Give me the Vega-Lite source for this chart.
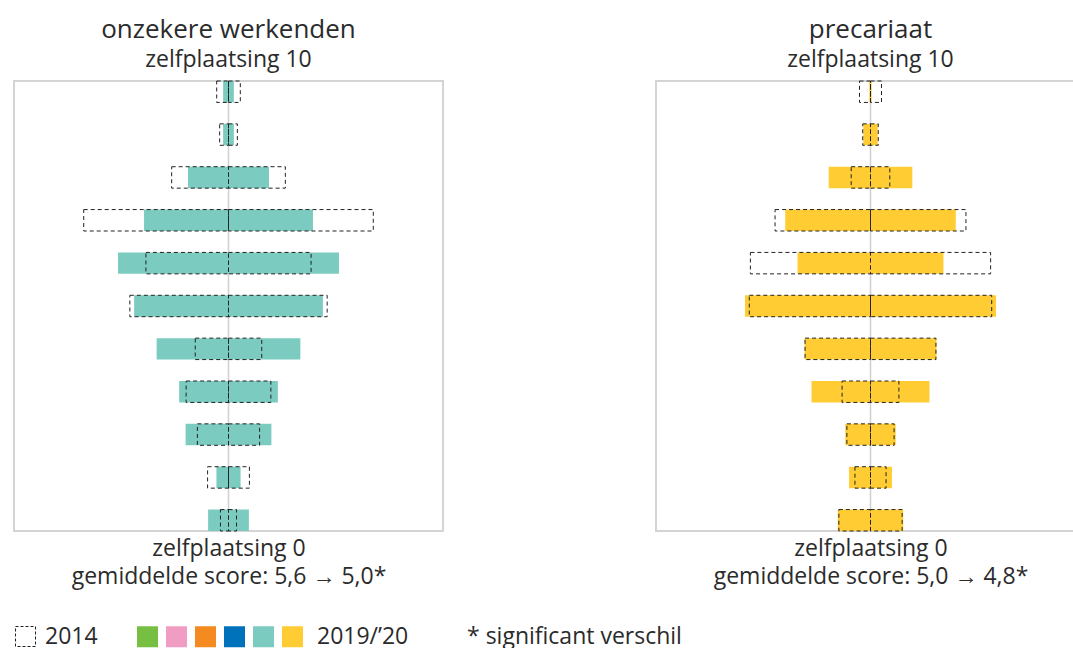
{
  "$schema": "https://vega.github.io/schema/vega-lite/v6.json",
  "background": "white",
  "padding": {"left": 13, "top": 16, "right": 0, "bottom": 0},
  "bounds": "flush",
  "spacing": 213,
  "config": {
    "font": "Open Sans",
    "view": {"stroke": "#d4d4d4", "strokeWidth": 2},
    "title": {"fontSize": 26, "fontWeight": "normal", "color": "#2b2b2b", "subtitleFontSize": 23, "subtitleColor": "#2b2b2b", "anchor": "middle", "offset": 8, "subtitlePadding": 6},
    "axis": {"titleFontSize": 23, "titleFontWeight": "normal", "titleColor": "#2b2b2b", "titleLineHeight": 28},
    "legend": {"labelFontSize": 23, "labelColor": "#2b2b2b", "titleFontSize": 23, "titleFontWeight": "normal", "titleColor": "#2b2b2b", "titleLimit": 0, "labelLimit": 0}
  },
  "resolve": {"scale": {"fill": "independent"}, "legend": {"fill": "independent"}},
  "data": {"values": [
    {"groep": "onzekere werkenden", "jaar": "2014", "score": 10, "pct": 2.2},
    {"groep": "onzekere werkenden", "jaar": "2014", "score": 9, "pct": 1.65},
    {"groep": "onzekere werkenden", "jaar": "2014", "score": 8, "pct": 10.6},
    {"groep": "onzekere werkenden", "jaar": "2014", "score": 7, "pct": 27.0},
    {"groep": "onzekere werkenden", "jaar": "2014", "score": 6, "pct": 15.4},
    {"groep": "onzekere werkenden", "jaar": "2014", "score": 5, "pct": 18.4},
    {"groep": "onzekere werkenden", "jaar": "2014", "score": 4, "pct": 6.2},
    {"groep": "onzekere werkenden", "jaar": "2014", "score": 3, "pct": 7.9},
    {"groep": "onzekere werkenden", "jaar": "2014", "score": 2, "pct": 5.8},
    {"groep": "onzekere werkenden", "jaar": "2014", "score": 1, "pct": 3.9},
    {"groep": "onzekere werkenden", "jaar": "2014", "score": 0, "pct": 1.5},
    {"groep": "onzekere werkenden", "jaar": "2019/’20", "score": 10, "pct": 1.0},
    {"groep": "onzekere werkenden", "jaar": "2019/’20", "score": 9, "pct": 1.0},
    {"groep": "onzekere werkenden", "jaar": "2019/’20", "score": 8, "pct": 7.55},
    {"groep": "onzekere werkenden", "jaar": "2019/’20", "score": 7, "pct": 15.75},
    {"groep": "onzekere werkenden", "jaar": "2019/’20", "score": 6, "pct": 20.6},
    {"groep": "onzekere werkenden", "jaar": "2019/’20", "score": 5, "pct": 17.6},
    {"groep": "onzekere werkenden", "jaar": "2019/’20", "score": 4, "pct": 13.4},
    {"groep": "onzekere werkenden", "jaar": "2019/’20", "score": 3, "pct": 9.2},
    {"groep": "onzekere werkenden", "jaar": "2019/’20", "score": 2, "pct": 8.0},
    {"groep": "onzekere werkenden", "jaar": "2019/’20", "score": 1, "pct": 2.25},
    {"groep": "onzekere werkenden", "jaar": "2019/’20", "score": 0, "pct": 3.8},
    {"groep": "precariaat", "jaar": "2014", "score": 10, "pct": 2.05},
    {"groep": "precariaat", "jaar": "2014", "score": 9, "pct": 1.45},
    {"groep": "precariaat", "jaar": "2014", "score": 8, "pct": 3.6},
    {"groep": "precariaat", "jaar": "2014", "score": 7, "pct": 17.8},
    {"groep": "precariaat", "jaar": "2014", "score": 6, "pct": 22.4},
    {"groep": "precariaat", "jaar": "2014", "score": 5, "pct": 22.6},
    {"groep": "precariaat", "jaar": "2014", "score": 4, "pct": 12.2},
    {"groep": "precariaat", "jaar": "2014", "score": 3, "pct": 5.3},
    {"groep": "precariaat", "jaar": "2014", "score": 2, "pct": 4.4},
    {"groep": "precariaat", "jaar": "2014", "score": 1, "pct": 2.9},
    {"groep": "precariaat", "jaar": "2014", "score": 0, "pct": 5.9},
    {"groep": "precariaat", "jaar": "2019/’20", "score": 10, "pct": 0.2},
    {"groep": "precariaat", "jaar": "2019/’20", "score": 9, "pct": 1.35},
    {"groep": "precariaat", "jaar": "2019/’20", "score": 8, "pct": 7.8},
    {"groep": "precariaat", "jaar": "2019/’20", "score": 7, "pct": 15.9},
    {"groep": "precariaat", "jaar": "2019/’20", "score": 6, "pct": 13.6},
    {"groep": "precariaat", "jaar": "2019/’20", "score": 5, "pct": 23.4},
    {"groep": "precariaat", "jaar": "2019/’20", "score": 4, "pct": 12.3},
    {"groep": "precariaat", "jaar": "2019/’20", "score": 3, "pct": 11.0},
    {"groep": "precariaat", "jaar": "2019/’20", "score": 2, "pct": 4.7},
    {"groep": "precariaat", "jaar": "2019/’20", "score": 1, "pct": 4.0},
    {"groep": "precariaat", "jaar": "2019/’20", "score": 0, "pct": 6.1}
  ]},
  "hconcat": [
    {
      "width": 429, "height": 450,
      "title": {"text": "onzekere werkenden", "subtitle": "zelfplaatsing 10"},
      "transform": [
        {"filter": "datum.groep == 'onzekere werkenden'"},
        {"calculate": "-datum.pct/2", "as": "links"},
        {"calculate": "datum.pct/2", "as": "rechts"}
      ],
      "layer": [
        {
          "transform": [{"filter": "datum.score == 0 && datum.jaar == '2014'"}],
          "mark": {"type": "rule", "color": "#d0d0d0", "strokeWidth": 1.5},
          "encoding": {"x": {"datum": 0, "type": "quantitative", "scale": {"domain": [-20, 20]}, "axis": {"title": ["zelfplaatsing 0", "gemiddelde score: 5,6 → 5,0*"], "labels": false, "ticks": false, "domain": false, "grid": false, "titlePadding": 6}}}
        },
        {
          "transform": [{"filter": "datum.jaar != '2014'"}],
          "mark": {"type": "rect"},
          "encoding": {
            "y": {"field": "score", "type": "ordinal", "sort": "descending", "scale": {"paddingInner": 0.5, "paddingOuter": 0}, "axis": null},
            "x": {"field": "links", "type": "quantitative"},
            "x2": {"field": "rechts"},
            "fill": {"field": "groep", "type": "nominal",
              "scale": {"domain": ["gevestigde bovenlaag", "jongere kansrijken", "werkende middengroep", "comfortabel gepensioneerden", "onzekere werkenden", "precariaat"], "range": ["#76bf43", "#f19cc2", "#f58a21", "#0072bb", "#7bcbc0", "#ffcd33"]},
              "legend": {"orient": "none", "legendX": 122, "legendY": 544, "direction": "horizontal", "title": "* significant verschil", "titleOrient": "right", "titlePadding": 59, "symbolType": "square", "symbolSize": 441, "symbolStrokeWidth": 0, "symbolOpacity": 1, "labelExpr": "datum.value == 'precariaat' ? '2019/’20' : ''", "labelOffset": 0, "columnPadding": 6,
                "encode": {"labels": {"update": {"dx": {"signal": "datum.value == 'precariaat' ? 13 : 0"}}}}}}
          }
        },
        {
          "transform": [{"filter": "datum.jaar == '2014'"}],
          "mark": {"type": "rect", "filled": false, "strokeWidth": 1, "strokeDash": [4, 3]},
          "encoding": {
            "y": {"field": "score", "type": "ordinal", "sort": "descending"},
            "x": {"field": "links", "type": "quantitative"},
            "x2": {"datum": 0},
            "stroke": {"field": "jaar", "type": "nominal", "scale": {"domain": ["2014"], "range": ["#222222"]},
              "legend": {"orient": "none", "legendX": 0, "legendY": 544, "title": null, "symbolType": "square", "symbolSize": 400, "symbolStrokeColor": "#555", "symbolStrokeWidth": 1, "symbolFillColor": "white", "symbolDash": [3, 2], "labelOffset": 8}}
          }
        },
        {
          "transform": [{"filter": "datum.jaar == '2014'"}],
          "mark": {"type": "rect", "filled": false, "stroke": "#222", "strokeWidth": 1, "strokeDash": [4, 3]},
          "encoding": {
            "y": {"field": "score", "type": "ordinal", "sort": "descending"},
            "x": {"field": "rechts", "type": "quantitative"},
            "x2": {"datum": 0}
          }
        }
      ]
    },
    {
      "width": 429, "height": 450,
      "title": {"text": "precariaat", "subtitle": "zelfplaatsing 10"},
      "transform": [
        {"filter": "datum.groep == 'precariaat'"},
        {"calculate": "-datum.pct/2", "as": "links"},
        {"calculate": "datum.pct/2", "as": "rechts"}
      ],
      "layer": [
        {
          "transform": [{"filter": "datum.score == 0 && datum.jaar == '2014'"}],
          "mark": {"type": "rule", "color": "#d0d0d0", "strokeWidth": 1.5},
          "encoding": {"x": {"datum": 0, "type": "quantitative", "scale": {"domain": [-20, 20]}, "axis": {"title": ["zelfplaatsing 0", "gemiddelde score: 5,0 → 4,8*"], "labels": false, "ticks": false, "domain": false, "grid": false, "titlePadding": 6}}}
        },
        {
          "transform": [{"filter": "datum.jaar != '2014'"}],
          "mark": {"type": "rect"},
          "encoding": {
            "y": {"field": "score", "type": "ordinal", "sort": "descending", "scale": {"paddingInner": 0.5, "paddingOuter": 0}, "axis": null},
            "x": {"field": "links", "type": "quantitative"},
            "x2": {"field": "rechts"},
            "fill": {"field": "groep", "type": "nominal",
              "scale": {"domain": ["gevestigde bovenlaag", "jongere kansrijken", "werkende middengroep", "comfortabel gepensioneerden", "onzekere werkenden", "precariaat"], "range": ["#76bf43", "#f19cc2", "#f58a21", "#0072bb", "#7bcbc0", "#ffcd33"]},
              "legend": null}
          }
        },
        {
          "transform": [{"filter": "datum.jaar == '2014'"}],
          "mark": {"type": "rect", "filled": false, "stroke": "#222", "strokeWidth": 1, "strokeDash": [4, 3]},
          "encoding": {
            "y": {"field": "score", "type": "ordinal", "sort": "descending"},
            "x": {"field": "links", "type": "quantitative"},
            "x2": {"datum": 0}
          }
        },
        {
          "transform": [{"filter": "datum.jaar == '2014'"}],
          "mark": {"type": "rect", "filled": false, "stroke": "#222", "strokeWidth": 1, "strokeDash": [4, 3]},
          "encoding": {
            "y": {"field": "score", "type": "ordinal", "sort": "descending"},
            "x": {"field": "rechts", "type": "quantitative"},
            "x2": {"datum": 0}
          }
        }
      ]
    }
  ]
}
